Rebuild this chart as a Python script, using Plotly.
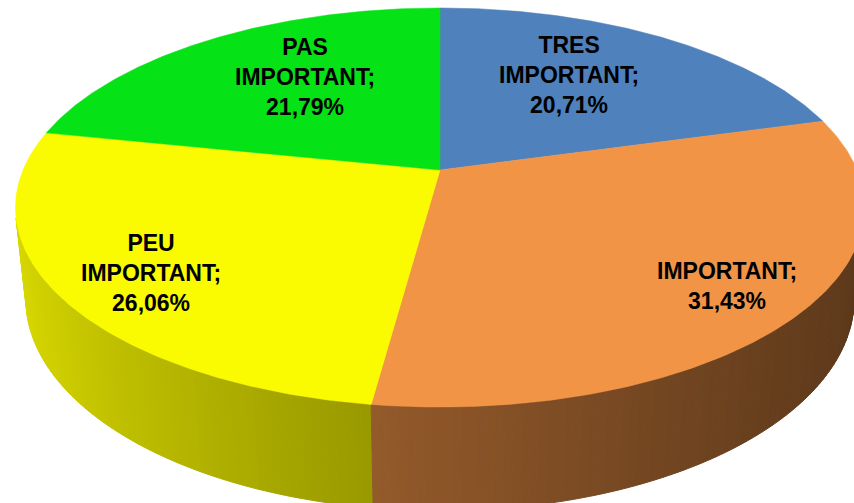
import numpy as np
import plotly.graph_objects as go

# ---- data ----
categories = ["TRES IMPORTANT", "IMPORTANT", "PEU IMPORTANT", "PAS IMPORTANT"]
values = [20.71, 31.43, 26.06, 21.79]
colors = ["#4F81BD", "#F29446", "#FAFA00", "#05E215"]
label_radius = [0.55, 0.82, 0.78, 0.55]
label_lift = [0.05, 0.0, -0.02, 0.05]

# ---- 3D pie projection settings (style) ----
W, HGT = 854, 503
CX, CY = 440.0, 170.0     # screen position of pie centre
S = 417.0                 # scale (radius in px)
PHI = np.arcsin(0.4616)   # tilt
DIST = 4.72               # perspective distance
DEPTH = 0.25              # thickness of pie


def project(x, y, z):
    x = np.asarray(x, dtype=float)
    y = np.asarray(y, dtype=float)
    z = np.asarray(z, dtype=float)
    v = y * np.sin(PHI) + z * np.cos(PHI)
    w = y * np.cos(PHI) - z * np.sin(PHI)
    f = 1.0 / (1.0 + w / DIST)
    return CX + S * x * f, CY - S * v * f


def hex_rgb(h):
    h = h.lstrip("#")
    return tuple(int(h[i:i + 2], 16) for i in (0, 2, 4))


def shade(hexcol, b):
    r, g, bl = hex_rgb(hexcol)
    return "rgb(%d,%d,%d)" % (min(255, r * b), min(255, g * b), min(255, bl * b))


def wall_brightness(s):
    # side lighting (light from the left)
    return 0.579 - 0.251 * s + 0.0466 * s * s


total = sum(values)
fracs = [v / total for v in values]
starts = np.concatenate([[0.0], np.cumsum(fracs)[:-1]]) * 2 * np.pi
ends = np.cumsum(fracs) * 2 * np.pi

# visible part of the cylinder wall (front-facing under perspective)
c_lim = -1.0 / (DIST * np.cos(PHI))
vis_a = np.arccos(c_lim)
vis_b = 2 * np.pi - vis_a

fig = go.Figure()

# ---- side strips ----
strips = []
for i in range(len(values)):
    a, b = max(starts[i], vis_a), min(ends[i], vis_b)
    if b <= a:
        continue
    n = max(2, int(np.ceil(np.degrees(b - a) / 1.0)))
    th = np.linspace(a, b, n + 1)
    for j in range(n):
        t0, t1 = th[j], th[j + 1]
        tm = 0.5 * (t0 + t1)
        xs = [np.sin(t0), np.sin(t1), np.sin(t1), np.sin(t0), np.sin(t0)]
        ys = [np.cos(t0), np.cos(t1), np.cos(t1), np.cos(t0), np.cos(t0)]
        zs = [0, 0, -DEPTH, -DEPTH, 0]
        px, py = project(xs, ys, zs)
        col = shade(colors[i], wall_brightness(np.sin(tm)))
        strips.append((np.cos(tm), px, py, col))

strips.sort(key=lambda s: -s[0])
for _, px, py, col in strips:
    fig.add_trace(go.Scatter(x=px, y=py, mode="lines", fill="toself",
                             fillcolor=col, line=dict(color=col, width=1),
                             hoverinfo="skip", showlegend=False))

# ---- top faces ----
for i in range(len(values)):
    a, b = starts[i], ends[i]
    th = np.linspace(a, b, 200)
    xs = np.concatenate([[0], np.sin(th), [0]])
    ys = np.concatenate([[0], np.cos(th), [0]])
    px, py = project(xs, ys, np.zeros_like(xs))
    fig.add_trace(go.Scatter(x=px, y=py, mode="lines", fill="toself",
                             fillcolor=colors[i], line=dict(color=colors[i], width=0.5),
                             hoverinfo="skip", showlegend=False))

# ---- labels ----
for i, cat in enumerate(categories):
    tm = 0.5 * (starts[i] + ends[i])
    r = label_radius[i]
    lx, ly = project([r * np.sin(tm)], [r * np.cos(tm)], [label_lift[i]])
    pct = ("%.2f" % values[i]).replace(".", ",") + "%"
    text = cat.replace(" ", "<br>") + ";<br>" + pct
    fig.add_annotation(x=float(lx[0]), y=float(ly[0]), text="<b>" + text + "</b>",
                       showarrow=False, xanchor="center", yanchor="middle",
                       font=dict(family="Liberation Sans, Arial, sans-serif", size=23, color="black"),
                       align="center")

fig.update_layout(
    width=W, height=HGT, autosize=False,
    margin=dict(l=0, r=0, t=0, b=0),
    paper_bgcolor="white", plot_bgcolor="white",
    showlegend=False,
    xaxis=dict(range=[0, W], visible=False, fixedrange=True),
    yaxis=dict(range=[HGT, 0], visible=False, fixedrange=True),
)

fig.write_html("out.html", config={"displayModeBar": False},
               post_script="document.body.style.margin='0px';document.body.style.overflow='hidden';")
